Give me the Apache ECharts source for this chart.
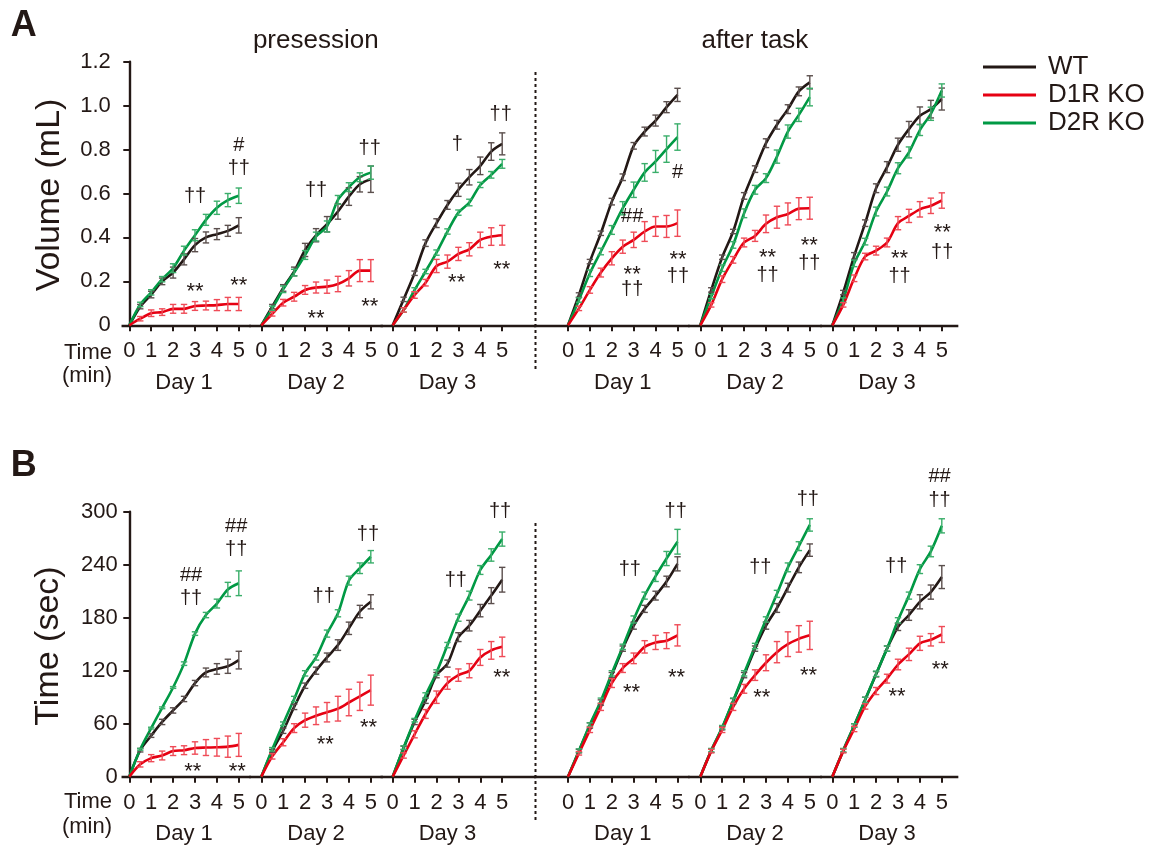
<!DOCTYPE html>
<html><head><meta charset="utf-8">
<script src="https://cdn.jsdelivr.net/npm/echarts@6/dist/echarts.min.js"></script>
<style>html,body{margin:0;padding:0;background:#fff}#c{width:1159px;height:848px}</style>
</head><body><div id="c"></div>
<script>
// ---------- categories / ticks ----------
const times = [0, 0.5, 1, 1.5, 2, 2.5, 3, 3.5, 4, 4.5, 5];
const xTicks = [0, 1, 2, 3, 4, 5];
const dayLabels = ['Day 1', 'Day 2', 'Day 3', 'Day 1', 'Day 2', 'Day 3'];
const sessionLabels = ['presession', 'after task'];
const groupNames = ['WT', 'D1R KO', 'D2R KO'];
const volAxis = { min: 0, max: 1.2, interval: 0.2 };
const timeAxis = { min: 0, max: 300, interval: 60 };

// ---------- Panel A: Volume (mL), mean ----------
const volPre1WT  = [0, 0.085, 0.14, 0.20, 0.24, 0.30, 0.365, 0.40, 0.415, 0.43, 0.455];
const volPre1D1R = [0, 0.03, 0.055, 0.06, 0.075, 0.075, 0.088, 0.09, 0.092, 0.097, 0.097];
const volPre1D2R = [0, 0.095, 0.15, 0.21, 0.26, 0.34, 0.41, 0.48, 0.535, 0.57, 0.59];
const volPre2WT  = [0, 0.085, 0.17, 0.245, 0.343, 0.41, 0.46, 0.518, 0.586, 0.642, 0.665];
const volPre2D1R = [0, 0.052, 0.103, 0.13, 0.161, 0.172, 0.176, 0.188, 0.214, 0.249, 0.249];
const volPre2D2R = [0, 0.077, 0.164, 0.24, 0.32, 0.404, 0.45, 0.571, 0.629, 0.674, 0.695];
const volPre3WT  = [0, 0.118, 0.237, 0.374, 0.465, 0.548, 0.617, 0.674, 0.726, 0.791, 0.826];
const volPre3D1R = [0, 0.07, 0.138, 0.194, 0.27, 0.29, 0.325, 0.346, 0.389, 0.404, 0.41];
const volPre3D2R = [0, 0.07, 0.161, 0.245, 0.331, 0.427, 0.513, 0.559, 0.639, 0.685, 0.735];
const volAft1WT  = [0, 0.138, 0.29, 0.419, 0.563, 0.674, 0.817, 0.882, 0.932, 0.993, 1.049];
const volAft1D1R = [0, 0.077, 0.161, 0.24, 0.305, 0.358, 0.389, 0.427, 0.45, 0.45, 0.465];
const volAft1D2R = [0, 0.115, 0.237, 0.336, 0.434, 0.533, 0.617, 0.696, 0.746, 0.802, 0.857];
const volAft2WT  = [0, 0.161, 0.31, 0.427, 0.589, 0.711, 0.829, 0.913, 0.984, 1.065, 1.106];
const volAft2D1R = [0, 0.093, 0.21, 0.298, 0.377, 0.407, 0.462, 0.492, 0.507, 0.531, 0.533];
const volAft2D2R = [0, 0.131, 0.26, 0.366, 0.51, 0.617, 0.67, 0.768, 0.882, 0.958, 1.039];
const volAft3WT  = [0, 0.149, 0.316, 0.465, 0.624, 0.72, 0.822, 0.893, 0.954, 0.984, 1.03];
const volAft3D1R = [0, 0.093, 0.214, 0.313, 0.34, 0.377, 0.465, 0.498, 0.528, 0.544, 0.568];
const volAft3D2R = [0, 0.115, 0.282, 0.381, 0.518, 0.609, 0.715, 0.787, 0.889, 0.963, 1.069];

// ---------- Panel A: Volume, SEM ----------
const volPre1WTe  = [0, .01, .015, .015, .025, .025, .03, .025, .025, .025, .035];
const volPre1D1Re = [0, .01, .015, .015, .02, .02, .02, .02, .025, .03, .03];
const volPre1D2Re = [0, .01, .012, .012, .02, .02, .025, .025, .03, .03, .035];
const volPre2WTe  = [0, .01, .015, .02, .03, .03, .035, .035, .04, .035, .06];
const volPre2D1Re = [0, .01, .015, .02, .02, .025, .03, .035, .035, .05, .05];
const volPre2D2Re = [0, .01, .015, .015, .02, .02, .025, .02, .02, .02, .03];
const volPre3WTe  = [0, .01, .01, .015, .02, .02, .03, .035, .04, .04, .05];
const volPre3D1Re = [0, .01, .015, .015, .03, .03, .03, .03, .035, .04, .045];
const volPre3D2Re = [0, .01, .01, .01, .012, .012, .012, .015, .012, .015, .02];
const volAft1WTe  = [0, .01, .01, .01, .015, .015, .015, .02, .025, .025, .03];
const volAft1D1Re = [0, .01, .015, .02, .03, .03, .035, .045, .045, .05, .06];
const volAft1D2Re = [0, .01, .015, .015, .02, .03, .035, .04, .05, .06, .06];
const volAft2WTe  = [0, .01, .01, .01, .015, .015, .02, .02, .02, .02, .03];
const volAft2D1Re = [0, .01, .015, .015, .02, .025, .04, .05, .05, .05, .05];
const volAft2D2Re = [0, .01, .015, .015, .02, .02, .02, .03, .03, .03, .04];
const volAft3WTe  = [0, .01, .015, .015, .02, .025, .03, .035, .04, .04, .05];
const volAft3D1Re = [0, .01, .015, .015, .02, .02, .03, .03, .035, .035, .035];
const volAft3D2Re = [0, .01, .015, .015, .02, .02, .025, .025, .025, .03, .03];

// ---------- Panel B: Time (sec), mean ----------
const secPre1WT  = [0, 30, 46.5, 62, 75, 88, 106, 118, 122, 125, 132];
const secPre1D1R = [0, 14, 21, 24, 29, 30, 32.5, 33, 33.3, 34, 36];
const secPre1D2R = [0, 31, 55, 78, 101, 128, 162, 183, 196, 212, 219];
const secPre2WT  = [0, 29, 52, 79, 103, 120, 135, 149, 168, 187, 198];
const secPre2D1R = [0, 23, 39, 55, 64, 69, 73, 77, 84, 91, 98];
const secPre2D2R = [0, 31, 60, 88, 117, 135, 162, 185, 222, 236, 249];
const secPre3WT  = [0, 32.5, 62, 86, 115, 128, 158, 171, 188, 205, 223];
const secPre3D1R = [0, 24, 48, 71, 90, 106, 115, 120, 135, 143, 147];
const secPre3D2R = [0, 33, 64, 92, 118, 149, 180, 205, 234, 251, 269];
const secAft1WT  = [0, 29, 58, 84, 115, 145, 171, 190, 205, 221, 241];
const secAft1D1R = [0, 26.5, 53, 79, 106, 123, 134, 147, 152, 154, 160];
const secAft1D2R = [0, 29.5, 59, 86, 117, 147, 178, 205, 227, 247, 266];
const secAft2WT  = [0, 29.5, 55, 85.5, 115, 145, 171, 191, 214, 237, 256.5];
const secAft2D1R = [0, 29, 53, 79, 99.5, 115, 129, 141, 150, 156, 160];
const secAft2D2R = [0, 30, 56, 86, 117, 148, 178, 207, 237, 261, 285];
const secAft3WT  = [0, 29.5, 58, 87, 116, 145, 169.5, 183, 198, 209, 226];
const secAft3D1R = [0, 29, 54, 79.5, 97, 111, 127, 138.5, 151, 155, 161];
const secAft3D2R = [0, 30, 58, 87, 116.5, 145, 177, 205, 235, 255, 284];

// ---------- Panel B: Time, SEM ----------
const secPre1WTe  = [0, 2, 2, 3, 3, 3, 3, 5, 6, 8, 10];
const secPre1D1Re = [0, 3, 4, 5, 5, 5, 7, 9, 10, 12, 13];
const secPre1D2Re = [0, 1, 1, 1, 1, 2, 2, 3, 5, 8, 14];
const secPre2WTe  = [0, 2, 3, 3, 3, 4, 5, 6, 7, 7, 8];
const secPre2D1Re = [0, 3, 4, 5, 8, 10, 11, 14, 15, 16, 17];
const secPre2D2Re = [0, 2, 2, 3, 3, 3, 4, 4, 5, 6, 7];
const secPre3WTe  = [0, 2, 3, 3, 3, 4, 5, 6, 7, 9, 14];
const secPre3D1Re = [0, 3, 4, 5, 7, 7, 7, 8, 9, 10, 11];
const secPre3D2Re = [0, 2, 2, 3, 3, 3, 4, 5, 5, 7, 8];
const secAft1WTe  = [0, 2, 3, 3, 3, 3, 4, 4, 5, 6, 8];
const secAft1D1Re = [0, 2, 3, 4, 5, 5, 6, 7, 8, 9, 12];
const secAft1D2Re = [0, 2, 2, 3, 3, 3, 4, 4, 6, 8, 14];
const secAft2WTe  = [0, 2, 2, 3, 3, 3, 4, 5, 5, 6, 7];
const secAft2D1Re = [0, 2, 3, 4, 5, 6, 9, 12, 14, 15, 16];
const secAft2D2Re = [0, 2, 2, 3, 3, 3, 3, 4, 5, 5, 7];
const secAft3WTe  = [0, 2, 2, 3, 3, 3, 4, 6, 8, 8, 13];
const secAft3D1Re = [0, 2, 3, 3, 4, 5, 6, 7, 8, 7, 9];
const secAft3D2Re = [0, 2, 2, 3, 3, 3, 3, 4, 5, 6, 8];

// ---------- significance marks: [sub-panel, time, value, text] ----------
const volMarks = [
  [0, 3.0, 0.585, '††'], [0, 5.0, 0.82, '#'], [0, 5.0, 0.715, '††'], [0, 3.0, 0.175, '**'], [0, 5.0, 0.2, '**'],
  [1, 2.5, 0.616, '††'], [1, 4.95, 0.806, '††'], [1, 2.5, 0.051, '**'], [1, 4.95, 0.108, '**'],
  [2, 2.95, 0.821, '†'], [2, 4.93, 0.958, '††'], [2, 2.92, 0.214, '**'], [2, 4.98, 0.275, '**'],
  [3, 5.0, 0.695, '#'], [3, 2.93, 0.495, '##'], [3, 2.93, 0.252, '**'], [3, 2.93, 0.161, '††'], [3, 5.02, 0.32, '**'], [3, 5.02, 0.221, '††'],
  [4, 3.07, 0.328, '**'], [4, 3.07, 0.229, '††'], [4, 4.98, 0.384, '**'], [4, 4.98, 0.282, '††'],
  [5, 3.07, 0.325, '**'], [5, 3.07, 0.221, '††'], [5, 5.02, 0.442, '**'], [5, 5.02, 0.331, '††']
];
const secMarks = [
  [0, 2.82, 228, '##'], [0, 2.82, 202, '††'], [0, 4.88, 283, '##'], [0, 4.88, 257, '††'], [0, 2.9, 10.6, '**'], [0, 4.93, 10.6, '**'],
  [1, 2.85, 203.5, '††'], [1, 4.87, 274, '††'], [1, 2.92, 41.6, '**'], [1, 4.9, 61, '**'],
  [2, 2.88, 221.7, '††'], [2, 4.9, 300, '††'], [2, 4.98, 117, '**'],
  [3, 2.82, 234.6, '††'], [3, 4.92, 300, '††'], [3, 2.9, 101, '**'], [3, 4.96, 117.7, '**'],
  [4, 2.74, 237, '††'], [4, 4.91, 314, '††'], [4, 2.81, 94.6, '**'], [4, 4.94, 120, '**'],
  [5, 2.92, 237.6, '††'], [5, 4.9, 313, '††'], [5, 4.9, 340, '##'], [5, 2.96, 95.7, '**'], [5, 4.93, 126, '**']
];

// ---------- assemble ----------
const volMeans = [
  [volPre1WT, volPre1D1R, volPre1D2R], [volPre2WT, volPre2D1R, volPre2D2R], [volPre3WT, volPre3D1R, volPre3D2R],
  [volAft1WT, volAft1D1R, volAft1D2R], [volAft2WT, volAft2D1R, volAft2D2R], [volAft3WT, volAft3D1R, volAft3D2R]];
const volErrs = [
  [volPre1WTe, volPre1D1Re, volPre1D2Re], [volPre2WTe, volPre2D1Re, volPre2D2Re], [volPre3WTe, volPre3D1Re, volPre3D2Re],
  [volAft1WTe, volAft1D1Re, volAft1D2Re], [volAft2WTe, volAft2D1Re, volAft2D2Re], [volAft3WTe, volAft3D1Re, volAft3D2Re]];
const secMeans = [
  [secPre1WT, secPre1D1R, secPre1D2R], [secPre2WT, secPre2D1R, secPre2D2R], [secPre3WT, secPre3D1R, secPre3D2R],
  [secAft1WT, secAft1D1R, secAft1D2R], [secAft2WT, secAft2D1R, secAft2D2R], [secAft3WT, secAft3D1R, secAft3D2R]];
const secErrs = [
  [secPre1WTe, secPre1D1Re, secPre1D2Re], [secPre2WTe, secPre2D1Re, secPre2D2Re], [secPre3WTe, secPre3D1Re, secPre3D2Re],
  [secAft1WTe, secAft1D1Re, secAft1D2Re], [secAft2WTe, secAft2D1Re, secAft2D2Re], [secAft3WTe, secAft3D1Re, secAft3D2Re]];

const FONT = '"Liberation Sans", Arial, Helvetica, sans-serif';
const INK = '#231815';
const lineColors = ['#231815', '#e60012', '#009944'];
const barColors = ['#5b4f4d', '#ef4b57', '#3aae6a'];

// layout (pixels)
const ppm = 21.9;
const zeroX = [129.3, 261.3, 392.7, 568.0, 700.3, 832.3];
const xMin = [-0.3, -0.5, -0.5, -1.5, -0.5, -0.5];
const xMax = [5.5, 5.5, 6.5, 5.5, 5.5, 5.7];
const panels = [
  { top: 61.7, height: 263.6, axis: volAxis, means: volMeans, errs: volErrs, marks: volMarks, labelMargin: 12,
    fmt: v => (v === 0 ? '0' : v.toFixed(1)) },
  { top: 511.7, height: 265, axis: timeAxis, means: secMeans, errs: secErrs, marks: secMarks, labelMargin: 5,
    fmt: v => String(v) }
];

const grids = [], xAxes = [], yAxes = [], series = [];

function errRender(params, api) {
  const x = api.value(0), lo = api.value(1), hi = api.value(2);
  if (!(hi - lo > 0)) return null;
  const a = api.coord([x, lo]), b = api.coord([x, hi]);
  const w = 3.2;
  const st = { stroke: api.visual('color'), lineWidth: 1.4 };
  return { type: 'group', children: [
    { type: 'line', shape: { x1: a[0], y1: a[1], x2: b[0], y2: b[1] }, style: st },
    { type: 'line', shape: { x1: a[0] - w, y1: a[1], x2: a[0] + w, y2: a[1] }, style: st },
    { type: 'line', shape: { x1: b[0] - w, y1: b[1], x2: b[0] + w, y2: b[1] }, style: st }
  ]};
}

panels.forEach((P, pi) => {
  for (let s = 0; s < 6; s++) {
    const gi = grids.length;
    grids.push({ left: zeroX[s] + xMin[s] * ppm, width: (xMax[s] - xMin[s]) * ppm, top: P.top, height: P.height });
    xAxes.push({
      type: 'value', gridIndex: gi, min: xMin[s], max: xMax[s], position: 'bottom',
      axisLine: { show: true, onZero: false, lineStyle: { color: INK, width: 2.4, cap: 'square' } },
      axisTick: { show: true, customValues: xTicks, length: 6, lineStyle: { color: INK, width: 2 } },
      axisLabel: { show: true, customValues: xTicks, fontSize: 22, fontFamily: FONT, color: INK, margin: 15 },
      splitLine: { show: false }
    });
    yAxes.push({
      type: 'value', gridIndex: gi, min: P.axis.min, max: P.axis.max, interval: P.axis.interval,
      show: s === 0,
      axisLine: { show: true, lineStyle: { color: INK, width: 2.4 } },
      axisTick: { show: true, length: 6, lineStyle: { color: INK, width: 2 } },
      axisLabel: { fontSize: 22, fontFamily: FONT, color: INK, margin: P.labelMargin, formatter: P.fmt },
      splitLine: { show: false }
    });
    [0, 2, 1].forEach(g => {
      const m = P.means[s][g], e = P.errs[s][g];
      series.push({
        type: 'line', name: groupNames[g], xAxisIndex: gi, yAxisIndex: gi,
        data: times.map((t, i) => [t, m[i]]), symbol: 'none', smooth: 0.3,
        lineStyle: { color: lineColors[g], width: 2.6 }, itemStyle: { color: lineColors[g] },
        z: 3, animation: false
      });
      series.push({
        type: 'custom', name: 'err' + g, xAxisIndex: gi, yAxisIndex: gi,
        data: times.map((t, i) => [t, m[i] - e[i], m[i] + e[i]]),
        encode: { x: 0, y: [1, 2] }, renderItem: errRender,
        itemStyle: { color: barColors[g] }, z: 4, animation: false
      });
    });
    const mk = P.marks.filter(r => r[0] === s);
    series.push({
      type: 'custom', name: 'marks', xAxisIndex: gi, yAxisIndex: gi, clip: false,
      data: mk.map(r => [r[1], r[2]]), encode: { x: 0, y: 1 },
      renderItem: (params, api) => {
        const txt = mk[params.dataIndex][3];
        const p = api.coord([api.value(0), api.value(1)]);
        const star = txt === '**';
        return { type: 'text', x: p[0], y: p[1] + (star ? 5 : 0),
          style: { text: txt, fontSize: star ? 22 : 20, fontFamily: FONT, fill: INK, align: 'center', verticalAlign: 'middle' } };
      },
      z: 5, animation: false
    });
  }
});

const graphics = [];
function txt(x, y, text, size, opts) {
  graphics.push(Object.assign({ type: 'text', x, y,
    style: Object.assign({ text, fontSize: size, fontFamily: FONT, fill: INK, align: 'center', verticalAlign: 'middle' },
      (opts && opts.style) || {}) }, (opts && opts.el) || {}));
}
txt(23.7, 26.5, 'A', 36, { style: { fontWeight: 'bold' } });
txt(23.7, 466, 'B', 36, { style: { fontWeight: 'bold' } });
txt((zeroX[0] + zeroX[2] + 5 * ppm) / 2, 41, sessionLabels[0], 26);
txt((zeroX[3] + zeroX[5] + 5 * ppm) / 2, 41, sessionLabels[1], 26);
txt(50, 195, 'Volume (mL)', 34, { el: { rotation: Math.PI / 2 } });
txt(49, 646, 'Time (sec)', 34, { el: { rotation: Math.PI / 2 } });
[[352.7, 375.7, 382.7], [801.7, 826.7, 834]].forEach(([yT, yM, yD]) => {
  txt(112, yT, 'Time', 22, { style: { align: 'right' } });
  txt(112, yM, '(min)', 22, { style: { align: 'right' } });
  for (let s = 0; s < 6; s++) txt(zeroX[s] + 2.5 * ppm, yD, dayLabels[s], 22);
});
[[72, 370], [523, 822]].forEach(([y1, y2]) => {
  graphics.push({ type: 'line', shape: { x1: 535.5, y1, x2: 535.5, y2 },
    style: { stroke: INK, lineWidth: 2, lineDash: [3, 3] } });
});

const chart = echarts.init(document.getElementById('c'), null, { renderer: 'canvas' });
chart.setOption({
  backgroundColor: '#ffffff',
  animation: false,
  grid: grids, xAxis: xAxes, yAxis: yAxes, series,
  legend: {
    data: groupNames, orient: 'vertical', left: 978, top: 49, icon: 'rect',
    itemWidth: 53, itemHeight: 3, itemGap: 2, selectedMode: false,
    textStyle: { fontSize: 26, fontFamily: FONT, color: INK, lineHeight: 26, padding: [0, 0, 0, 7] }
  },
  graphic: graphics
});
</script></body></html>
